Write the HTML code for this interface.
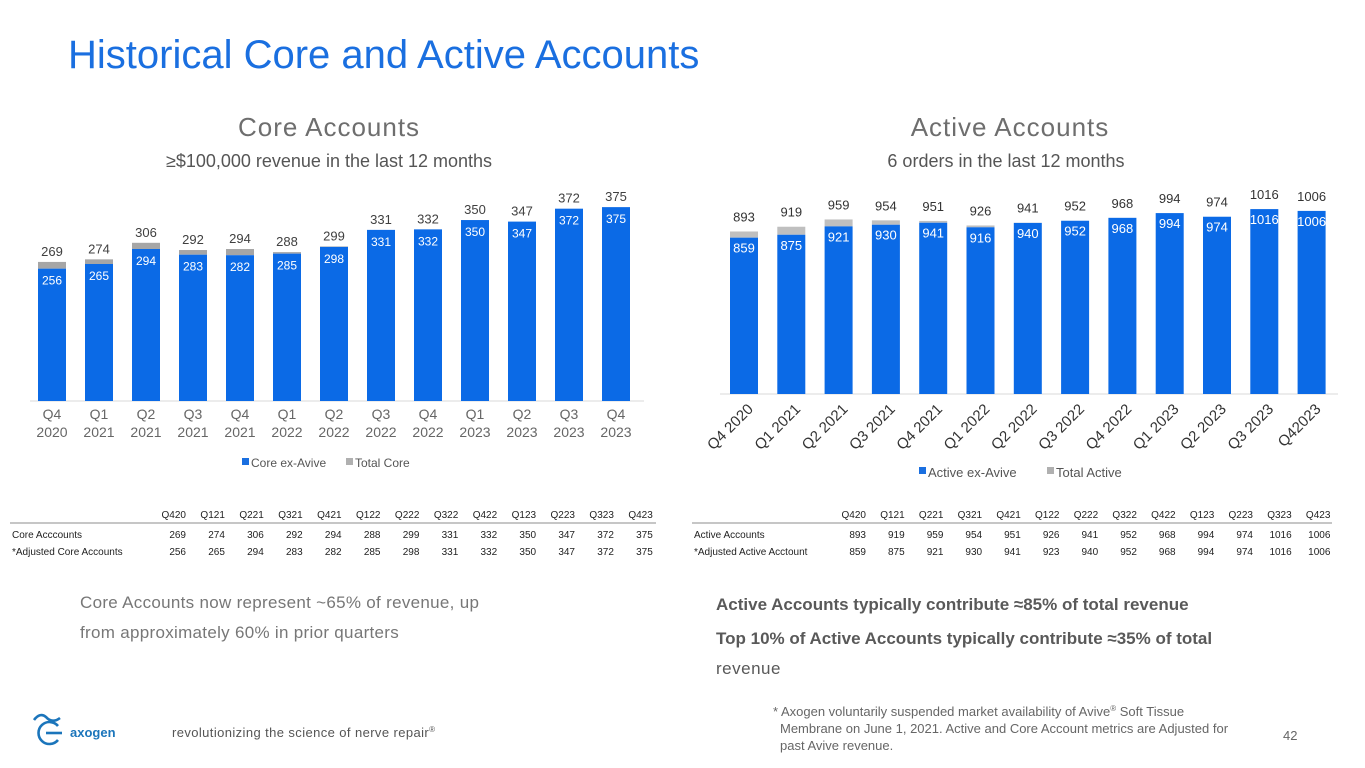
<!DOCTYPE html>
<html><head><meta charset="utf-8"><style>
html,body{margin:0;padding:0;background:#fff;}
svg{display:block;font-family:"Liberation Sans",sans-serif;}
</style></head><body>
<svg id="s" width="1365" height="768" viewBox="0 0 1365 768" xmlns="http://www.w3.org/2000/svg">
<text x="68" y="68" font-size="40" fill="#1a6fe0">Historical Core and Active Accounts</text>
<text x="329" y="136" font-size="26" fill="#6e6e6e" text-anchor="middle" letter-spacing="1">Core Accounts</text>
<text x="329" y="167" font-size="18" fill="#555" text-anchor="middle">≥$100,000 revenue in the last 12 months</text>
<text x="1010" y="136" font-size="26" fill="#6e6e6e" text-anchor="middle" letter-spacing="1">Active Accounts</text>
<text x="1006" y="167" font-size="18" fill="#555" text-anchor="middle">6 orders in the last 12 months</text>
<line x1="30" y1="401" x2="644" y2="401" stroke="#d9d9d9"/>
<line x1="720" y1="394" x2="1338" y2="394" stroke="#d9d9d9"/>
<g id="c"></g>
<rect x="242" y="458" width="7" height="7" fill="#1a6fe0"/><text x="251" y="467" font-size="12" fill="#555">Core ex-Avive</text>
<rect x="346" y="458" width="7" height="7" fill="#b0b0b0"/><text x="355" y="467" font-size="12" fill="#555">Total Core</text>
<rect x="919" y="467" width="7" height="7" fill="#1a6fe0"/><text x="928" y="477" font-size="13" fill="#555">Active ex-Avive</text>
<rect x="1047" y="467" width="7" height="7" fill="#b0b0b0"/><text x="1056" y="477" font-size="13" fill="#555">Total Active</text>
<line x1="10" y1="523" x2="656" y2="523" stroke="#666" stroke-width="0.8"/>
<line x1="692" y1="523" x2="1332" y2="523" stroke="#666" stroke-width="0.8"/>
<text x="80" y="608" font-size="17" fill="#777" letter-spacing="0.3">Core Accounts now represent ~65% of revenue, up</text>
<text x="80" y="638" font-size="17" fill="#777" letter-spacing="0.3">from approximately 60% in prior quarters</text>
<text x="716" y="610" font-size="17" font-weight="bold" fill="#595959">Active Accounts typically contribute ≈85% of total revenue</text>
<text x="716" y="644" font-size="17" font-weight="bold" fill="#595959">Top 10% of Active Accounts typically contribute ≈35% of total</text>
<text x="716" y="674" font-size="17" fill="#595959" letter-spacing="0.5">revenue</text>
<text x="773" y="716" font-size="13" fill="#666">* Axogen voluntarily suspended market availability of Avive<tspan font-size="8" dy="-5">®</tspan><tspan dy="5"> Soft Tissue</tspan></text>
<text x="780" y="733" font-size="13" fill="#666">Membrane on June 1, 2021. Active and Core Account metrics are Adjusted for</text>
<text x="780" y="750" font-size="13" fill="#666">past Avive revenue.</text>
<text x="1283" y="740" font-size="13" fill="#666">42</text>
<text x="172" y="737" font-size="13" fill="#555" letter-spacing="0.4">revolutionizing the science of nerve repair<tspan font-size="8" dy="-5">®</tspan></text>
<g fill="none" stroke="#1b75bb" stroke-width="2.6">
<path d="M34 720 Q40 712 46 717 Q52 724 60 718"/>
<path d="M58 740 A11 11 0 1 1 58 726"/>
<line x1="46" y1="733" x2="62" y2="733"/>
</g>
<text x="70" y="737" font-size="13" font-weight="bold" fill="#1b75bb">axogen</text>
</svg>
<script>
var g=document.getElementById('c'),h='';
function R(x,y,w,hh,f){h+='<rect x="'+x+'" y="'+y+'" width="'+w+'" height="'+hh+'" fill="'+f+'"/>';}
function T(x,y,t,f,s,a,extra){h+='<text x="'+x+'" y="'+y+'" font-size="'+s+'" fill="'+f+'" text-anchor="'+(a||'middle')+'" '+(extra||'')+'>'+t+'</text>';}
var cT=[269,274,306,292,294,288,299,331,332,350,347,372,375],cA=[256,265,294,283,282,285,298,331,332,350,347,372,375];
var q=['Q4','Q1','Q2','Q3','Q4','Q1','Q2','Q3','Q4','Q1','Q2','Q3','Q4'],yr=['2020','2021','2021','2021','2021','2022','2022','2022','2022','2023','2023','2023','2023'];
for(var i=0;i<13;i++){var cx=52+47*i,k=0.517,b=401;
 var yt=b-cT[i]*k,ya=b-cA[i]*k;R(cx-14,yt,28,ya-yt,'#a6a6a6');R(cx-14,ya,28,b-ya,'#0b6ae6');
 T(cx,yt-6,cT[i],'#404040',13);T(cx,ya+16,cA[i],'#fff',12);
 T(cx,419,q[i],'#666',14);T(cx,437,yr[i],'#666',14);}
var aT=[893,919,959,954,951,926,941,952,968,994,974,1016,1006],aA=[859,875,921,930,941,916,940,952,968,994,974,1016,1006];
for(var i=0;i<13;i++){var cx=744+47.3*i,k=0.182,b=394;
 var yt=b-aT[i]*k,ya=b-aA[i]*k;R(cx-14,yt,28,ya-yt,'#bfbfbf');R(cx-14,ya,28,b-ya,'#0b6ae6');
 T(cx,yt-10,aT[i],'#333',13);T(cx,ya+15,aA[i],'#fff',13);
 var lab=(i==12?'Q42023':q[i]+' '+yr[i]);var lx=cx+10,ly=410;
 T(lx,ly,lab,'#333',15,'end','transform="rotate(-45 '+lx+' '+ly+')"');}
var hd=['Q420','Q121','Q221','Q321','Q421','Q122','Q222','Q322','Q422','Q123','Q223','Q323','Q423'];
var st='font-family="Liberation Sans Narrow, Liberation Sans, sans-serif"';
for(var i=0;i<13;i++){var x=186+38.9*i;T(x,518,hd[i],'#222',10,'end',st);T(x,538,cT[i],'#222',10,'end',st);T(x,555,cA[i],'#222',10,'end',st);
 var x2=866+38.7*i;var a2=[859,875,921,930,941,923,940,952,968,994,974,1016,1006];T(x2,518,hd[i],'#222',10,'end',st);T(x2,538,aT[i],'#222',10,'end',st);T(x2,555,a2[i],'#222',10,'end',st);}
T(12,538,'Core Acccounts','#222',10,'start',st);T(12,555,'*Adjusted Core Accounts','#222',10,'start',st);
T(694,538,'Active Accounts','#222',10,'start',st);T(694,555,'*Adjusted Active Acctount','#222',10,'start',st);
g.innerHTML=h;
</script>
</body></html>
